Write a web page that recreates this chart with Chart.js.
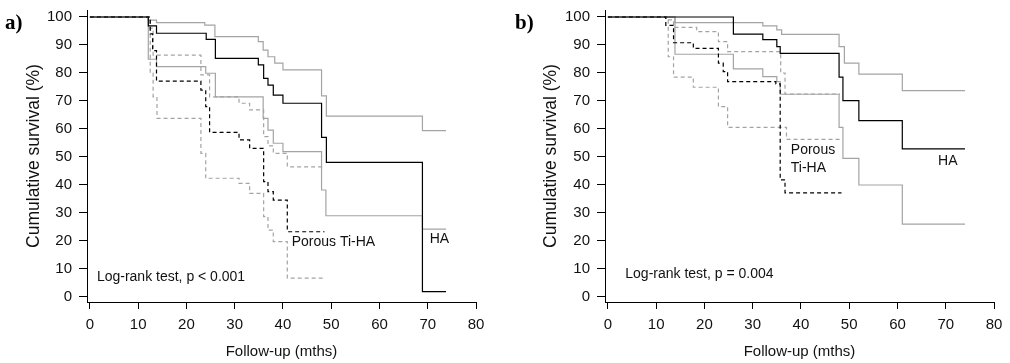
<!DOCTYPE html>
<html>
<head>
<meta charset="utf-8">
<script src="https://cdn.jsdelivr.net/npm/chart.js@4"></script>
<style>
  body { margin: 0; background: #fff; width: 1010px; height: 363px; overflow: hidden; position: relative; }
  canvas { position: absolute; top: 0; }
  #chartA { left: 0; }
  #chartB { left: 505px; }
</style>
</head>
<body>
<canvas id="chartA" width="505" height="363"></canvas>
<canvas id="chartB" width="505" height="363"></canvas>
<script>
// tick labels
const xTicks = [0, 10, 20, 30, 40, 50, 60, 70, 80];
const yTicks = [0, 10, 20, 30, 40, 50, 60, 70, 80, 90, 100];

// panel a) [months, survival %]
const aHA = [[0,100],[12.1,96.8],[13.8,94.2],[24.1,92],[26,85.2],[34.9,82.9],[36,78.1],[36.9,75.7],[38,72.1],[40,69.2],[48,57],[49,48.1],[68.9,1.9],[73.8,1.9]];
const aHAup = [[0,100],[12.1,98.9],[13.8,98],[23.8,97.1],[25.9,93],[34.9,91.2],[35.9,88.2],[36.9,85.8],[38.3,83.5],[40,81.1],[48,71.8],[49,64.6],[68.9,59.4],[73.8,59.4]];
const aHAlo = [[0,100],[12.1,84.9],[13.8,82.3],[24,79.9],[26,71.5],[35.9,63.8],[36.9,59.6],[38,54.9],[40,51.9],[48,38.2],[48.9,29],[68.9,24.2],[73.8,24.2]];
const aPo = [[0,100],[12.5,94],[13,88],[13.8,77.1],[23,73.9],[24,68],[24.8,58.8],[30.9,56.1],[33.1,53.1],[36,41.2],[36.9,37.6],[38,34.6],[40.9,23.3],[48.6,23.3]];
const aPoUp = [[0,100],[12.5,96],[13.1,86.4],[23,79.3],[24.8,71.5],[30.9,69.2],[33.1,66.8],[36,57.3],[36.9,54],[38,51.3],[40.9,46.5],[48.4,46.5]];
const aPoLo = [[0,100],[12.5,80],[13.1,71.5],[13.9,63.8],[23,51.3],[24,42.4],[30.9,40.6],[33.1,37],[36,28.7],[36.9,23.9],[38,19.8],[40.9,6.7],[48.4,6.7]];

// panel b)
const bHA = [[0,100],[26,93.9],[32.1,91.9],[35,89.4],[35.7,87],[47.9,78.5],[48.7,70.1],[52,63],[61,52.9],[74,52.9]];
const bHAup = [[0,100],[13.9,98],[32.1,96.8],[35,95.4],[36,93.8],[47.9,89.4],[49,83.5],[52,79.6],[61,73.7],[74,73.7]];
const bHAlo = [[0,100],[13.9,86.7],[26,81.5],[32.1,78.7],[35,76.9],[35.7,72.4],[47.9,60.6],[48.7,49.5],[52,40],[61,26],[74,26]];
const bPo = [[0,100],[12,97],[13.6,90.8],[17.7,88.8],[22.9,83.5],[23.9,80.5],[24.8,76.9],[34.8,76.1],[35.7,41.8],[36.7,37.2],[48.4,37.2]];
const bPoUp = [[0,100],[12,99],[13.6,96.3],[18.4,94.8],[22.9,91.2],[24.8,87.6],[35.8,80],[36.7,72.5],[48.1,72.5]];
const bPoLo = [[0,100],[12.5,85.8],[13.6,78.5],[17.7,74.9],[22.9,68],[24.8,60.6],[37,56.3],[48.4,56.3]];

const FONT = "'Liberation Sans', Arial, sans-serif";
const GREY = '#a4a4a4';

function curve(pts, color, dashed) {
  return {
    data: pts.map(p => ({ x: p[0], y: p[1] })),
    borderColor: color,
    borderWidth: 1.2,
    borderDash: dashed ? [4, 3] : [],
    stepped: 'before',
    pointRadius: 0,
    fill: false
  };
}

// texts placed in data units
const notes = {
  id: 'notes',
  afterDraw(chart) {
    const o = chart.options.plugins.notes;
    const ctx = chart.ctx, x = chart.scales.x, y = chart.scales.y;
    ctx.save();
    ctx.fillStyle = '#000';
    ctx.font = 'bold 21px "Liberation Serif", serif';
    ctx.textBaseline = 'alphabetic';
    ctx.fillText(o.tag, o.tagX, 29);
    ctx.fillStyle = '#111';
    ctx.font = '14px ' + FONT;
    ctx.textBaseline = 'middle';
    o.items.forEach(it => ctx.fillText(it[0], x.getPixelForValue(it[1]), y.getPixelForValue(it[2])));
    ctx.restore();
  }
};

function makeChart(id, series, opts) {
  const [est, up, lo, pEst, pUp, pLo] = series;
  new Chart(id, {
    type: 'line',
    data: {
      datasets: [
        curve(est, '#000', false),
        curve(pEst, '#000', true),
        curve(up, GREY, false),
        curve(lo, GREY, false),
        curve(pUp, GREY, true),
        curve(pLo, GREY, true)
      ]
    },
    options: {
      responsive: false,
      animation: false,
      layout: { padding: { left: 0, top: 10, right: opts.right, bottom: 0 } },
      plugins: {
        legend: { display: false },
        tooltip: { enabled: false },
        notes: { tag: opts.tag, tagX: opts.tagX, items: opts.items }
      },
      scales: {
        x: {
          type: 'linear', min: -0.6, max: 80,
          afterBuildTicks: s => { s.ticks = xTicks.map(v => ({ value: v })); },
          afterFit: s => { s.height = 61; s.paddingLeft = 0; s.paddingRight = 0; },
          grid: { drawOnChartArea: false, drawTicks: true, tickLength: 7, color: '#000' },
          border: { display: true, color: '#000', width: 1 },
          ticks: { color: '#111', font: { family: FONT, size: 15 }, padding: 7, maxRotation: 0 },
          title: { display: true, text: 'Follow-up (mths)', color: '#111', font: { family: FONT, size: 15 }, padding: { top: 0, bottom: 2 } }
        },
        y: {
          type: 'linear', min: -1.8, max: 102.5,
          afterBuildTicks: s => { s.ticks = yTicks.map(v => ({ value: v })); },
          afterFit: s => { s.width = opts.yw; s.paddingTop = 0; s.paddingBottom = 0; },
          grid: { drawOnChartArea: false, drawTicks: true, tickLength: 8, color: '#000' },
          border: { display: true, color: '#000', width: 1 },
          ticks: { color: '#111', font: { family: FONT, size: 15 }, padding: 7 },
          title: { display: true, text: 'Cumulative survival (%)', color: '#111', font: { family: FONT, size: 17.5 }, padding: { top: opts.titlePad, bottom: 0 } }
        }
      }
    },
    plugins: [notes]
  });
}

makeChart('chartA', [aHA, aHAup, aHAlo, aPo, aPoUp, aPoLo], {
  tag: 'a)', tagX: 5, yw: 87, right: 29, titlePad: 24,
  items: [['Porous Ti-HA', 41.8, 19.6], ['HA', 70.4, 20.7], ['Log-rank test, p < 0.001', 1.45, 7.1]]
});
makeChart('chartB', [bHA, bHAup, bHAlo, bPo, bPoUp, bPoLo], {
  tag: 'b)', tagX: 10, yw: 100, right: 16, titlePad: 36,
  items: [['Porous', 37.9, 52.5], ['Ti-HA', 37.9, 46.1], ['HA', 68.4, 48.6], ['Log-rank test, p = 0.004', 3.6, 8.2]]
});
</script>
</body>
</html>
